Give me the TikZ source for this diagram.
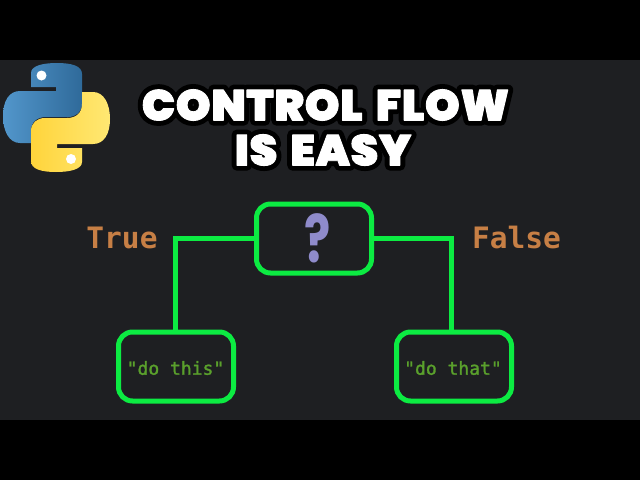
\documentclass[tikz,border=0pt]{standalone}
\usepackage{fontspec}
\newfontfamily\titlefont[LetterSpace=1.5,FakeStretch=1.03,FakeBold=2,WordSpace=1.6]{Poppins Black}
\newfontfamily\titlehalo[LetterSpace=1.5,FakeStretch=1.03,FakeBold=25,WordSpace=1.6]{Poppins Black}
\newfontfamily\codefont{DejaVu Sans Mono Bold}
\newfontfamily\strfont[FakeBold=1.6]{DejaVu Sans Mono}
\newfontfamily\qfont[FakeStretch=0.74]{Poppins Bold}
\definecolor{bgcol}{HTML}{1E1F22}
\definecolor{boxgreen}{HTML}{0CEB42}
\definecolor{kwcol}{HTML}{C77F45}
\definecolor{strcol}{HTML}{5AA02C}
\definecolor{qcol}{HTML}{8F8BCB}
\definecolor{pyblueA}{HTML}{5296CB}
\definecolor{pyblueB}{HTML}{2F6A9A}
\definecolor{pyyelA}{HTML}{FFD43B}
\definecolor{pyyelB}{HTML}{FFE873}
\tikzset{
  x=1pt,y=-1pt,
  flowbox/.style={draw=boxgreen,line width=5pt,rounded corners=14pt,outer sep=0pt,inner sep=0pt,minimum width=115pt,minimum height=69pt},
  link/.style={draw=boxgreen,line width=5pt,line join=miter},
  kw/.style={text=kwcol,inner sep=0pt,font=\codefont\fontsize{29.5}{29.5}\selectfont},
  strlit/.style={text=strcol,inner sep=0pt,font=\strfont\fontsize{18}{18}\selectfont},
  ttlw/.style={text=white,inner sep=0pt,font=\titlefont\fontsize{43}{43}\selectfont},
  ttlb/.style={text=black,inner sep=0pt,font=\titlehalo\fontsize{43}{43}\selectfont},
}
\begin{document}
\begin{tikzpicture}
\useasboundingbox (0,0) rectangle (640,480);
\fill[black] (0,0) rectangle (640,480);
\fill[bgcol] (0,60) rectangle (640,420);
% logo
\def\snake{(31,73) .. controls (31,66) and (42,63) .. (57,63) .. controls (72,63) and (82,66) .. (82,74) -- (82,104) .. controls (82,112) and (76,117) .. (68,117) -- (46,117) .. controls (37,117) and (31,122) .. (31,131) -- (31,143) -- (20,143) .. controls (9,143) and (3,131) .. (3,116) .. controls (3,101) and (9,91) .. (20,91) -- (56,91) -- (56,87) -- (31,87) -- cycle}
\shade[left color=pyblueA,right color=pyblueB] \snake;
\begin{scope}[shift={(113,235)},x=-1pt,y=1pt]
\shade[left color=pyyelA,right color=pyyelB] \snake;
\end{scope}
\fill[white] (41.5,75.5) circle (5);
\fill[white] (71,159) circle (5);
% title
\begin{scope}[line join=round]
\pgfsetroundjoin
\pgfsetmiterlimit{1}
\special{pdf:code 1 j 1 J 1 M}
\node[ttlb] (t1b) at (325.5,105) {CONTROL FLOW};
\node[ttlb] (t2b) at (323,150) {IS EASY};
\node[ttlw] (t1) at (325.5,105) {CONTROL FLOW};
\node[ttlw] (t2) at (323,150) {IS EASY};
\end{scope}
% flow
\node[flowbox] (q) at (314,238.5) {};
\node[flowbox] (a) at (176,366.5) {};
\node[flowbox] (b) at (454,366.5) {};
\draw[link] (q.west) -| ([xshift=-1pt]a.north);
\draw[link] (q.east) -| ([xshift=-3pt]b.north);
\node[text=qcol,inner sep=0pt,font=\qfont\fontsize{66}{66}\selectfont] (qm) at (318,238) {?};
\node[kw] (tr) at (122,238) {True};
\node[kw] (fa) at (516.5,237) {False};
\node[strlit] (sa) at (175.5,368) {"do this"};
\node[strlit] (sb) at (453,368) {"do that"};
\end{tikzpicture}
\end{document}
